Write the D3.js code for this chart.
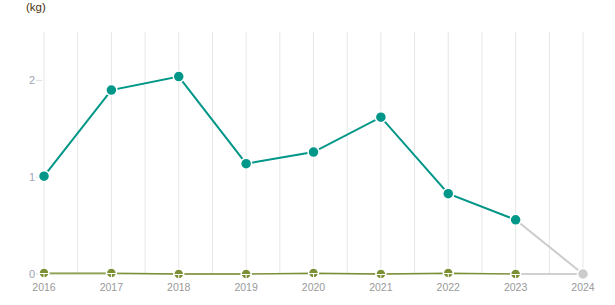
<!DOCTYPE html>
<html>
<head>
<meta charset="UTF-8">
<script src="https://d3js.org/d3.v7.min.js"></script>
<style>
  body { margin: 0; background: #fff; }
  text { font-family: "Liberation Sans", Arial, sans-serif; }
</style>
</head>
<body>
<svg id="chart"></svg>
<script>
// data
const anos = ["2016","2017","2018","2019","2020","2021","2022","2023","2024"];
const serieA = [1.01, 1.90, 2.04, 1.14, 1.26, 1.62, 0.83, 0.56, 0];
const serieB = [0.01, 0.01, 0.0, 0.0, 0.01, 0.0, 0.01, 0.0, 0];
const serieC = [0.0, 0.0, 0.0, 0.0, 0.0, 0.0, 0.0, 0.0, 0];
const ticksY = [0, 1, 2];
const unidade = "(kg)";

const largura = 615, altura = 305;
const margem = { topo: 32, direita: 32, inferior: 31, esquerda: 44 };
const w = largura - margem.esquerda - margem.direita;
const h = altura - margem.topo - margem.inferior;

const svg = d3.select("#chart").attr("width", largura).attr("height", altura);
const g = svg.append("g").attr("transform", `translate(${margem.esquerda},${margem.topo})`);

const x = d3.scalePoint().domain(anos).range([0, w]);
const y = d3.scaleLinear().domain([0, 2.5]).range([h, 0]);
const passo = x.step();

// linhas verticais da grade (anos + meio)
const grade = [];
anos.forEach((a, i) => { grade.push(x(a)); if (i < anos.length - 1) grade.push(x(a) + passo / 2); });
g.selectAll(".grade").data(grade).enter().append("line")
  .attr("x1", d => d).attr("x2", d => d)
  .attr("y1", 0).attr("y2", h)
  .attr("stroke", "#e6e6e6").attr("stroke-width", 1);

// ticks do eixo y
g.selectAll(".ty").data(ticksY).enter().append("line")
  .attr("x1", -8).attr("x2", -2)
  .attr("y1", d => y(d)).attr("y2", d => y(d))
  .attr("stroke", "#dddddd");
g.selectAll(".ly").data(ticksY).enter().append("text")
  .attr("x", -9).attr("y", d => y(d) + 4)
  .attr("text-anchor", "end")
  .attr("font-size", 11).attr("fill", "#a0a4b8")
  .text(d => d);

// rótulos do eixo x
g.selectAll(".lx").data(anos).enter().append("text")
  .attr("x", d => x(d)).attr("y", h + 17)
  .attr("text-anchor", "middle")
  .attr("font-size", 10.5).attr("fill", "#999999")
  .text(d => d);

svg.append("text").attr("x", 26).attr("y", 11)
  .attr("font-size", 11.5).attr("fill", "#4a3010").text(unidade);

const n = anos.length;
const linha = d3.line().x(d => x(d.a)).y(d => y(d.v));
function pontos(s) { return anos.map((a, i) => ({ a, v: s[i] })); }

function desenha(serie, cor, larg, raio, cruz) {
  const p = pontos(serie);
  g.append("path").datum(p.slice(0, n - 1))
    .attr("d", linha).attr("fill", "none")
    .attr("stroke", cor).attr("stroke-width", larg);
  g.append("path").datum(p.slice(n - 2))
    .attr("d", linha).attr("fill", "none")
    .attr("stroke", "#cccccc").attr("stroke-width", larg);
  const m = g.selectAll(null).data(p).enter().append("g")
    .attr("transform", d => `translate(${x(d.a)},${y(d.v)})`);
  m.append("circle").attr("r", raio)
    .attr("fill", (d, i) => i === n - 1 ? "#cccccc" : cor)
    .attr("stroke", "#fff").attr("stroke-width", 1.5);
  if (cruz) {
    m.append("line").attr("x1", -raio).attr("x2", raio).attr("y1", 0.5).attr("y2", 0.5)
      .attr("stroke", "#fff").attr("stroke-width", 1);
    m.append("line").attr("x1", 0).attr("x2", 0).attr("y1", 0).attr("y2", raio)
      .attr("stroke", "#fff").attr("stroke-width", 1);
  }
}

desenha(serieC, "#c8cfb0", 1.5, 0, false);
desenha(serieB, "#7b8f35", 1.3, 5, true);
desenha(serieA, "#009688", 2, 5.5, false);
</script>
</body>
</html>
